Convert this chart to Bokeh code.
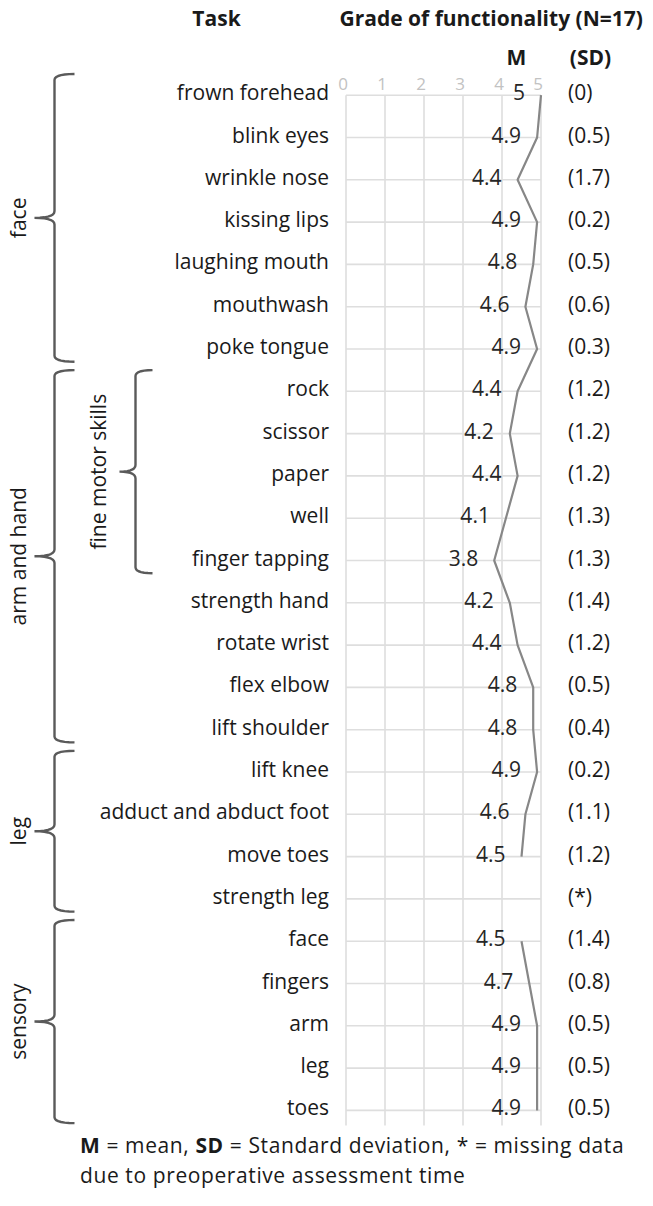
import numpy as np
from bokeh.plotting import figure
from bokeh.models import Range1d, Div
from bokeh.layouts import column
from bokeh.core.properties import value
from bokeh.embed import file_html
from bokeh.resources import INLINE

# ---------------- data ----------------
tasks = ["frown forehead", "blink eyes", "wrinkle nose", "kissing lips", "laughing mouth",
         "mouthwash", "poke tongue", "rock", "scissor", "paper", "well", "finger tapping",
         "strength hand", "rotate wrist", "flex elbow", "lift shoulder", "lift knee",
         "adduct and abduct foot", "move toes", "strength leg", "face", "fingers", "arm",
         "leg", "toes"]
means = [5, 4.9, 4.4, 4.9, 4.8, 4.6, 4.9, 4.4, 4.2, 4.4, 4.1, 3.8, 4.2, 4.4, 4.8, 4.8,
         4.9, 4.6, 4.5, None, 4.5, 4.7, 4.9, 4.9, 4.9]
sds = [0, 0.5, 1.7, 0.2, 0.5, 0.6, 0.3, 1.2, 1.2, 1.2, 1.3, 1.3, 1.4, 1.2, 0.5, 0.4,
       0.2, 1.1, 1.2, None, 1.4, 0.8, 0.5, 0.5, 0.5]
ticks = [0, 1, 2, 3, 4, 5]
groups = ["face", "arm and hand", "leg", "sensory"]
group_start = [0, 7, 16, 20]
group_end = [6, 15, 19, 24]
subgroups = ["fine motor skills"]
subgroup_start = [7]
subgroup_end = [11]

# ---------------- geometry ----------------
W, H = 645, 1128
PX_UNIT = 39.0      # px per grade unit
X0 = 345.5          # canvas px of grade 0
ROW_PX = 42.3       # px per row
ROW0 = 94.7         # canvas px of first row

def dx(cx):
    return (cx - X0) / PX_UNIT

def dy(cy):
    return (cy - ROW0) / ROW_PX

FONT = value("Open Sans")
TXT = "#1a1a1a"
FS = "21px"

p = figure(width=W, height=H, output_backend="svg", toolbar_location=None,
           x_range=Range1d(dx(0), dx(W)), y_range=Range1d(dy(H), dy(0)),
           x_axis_type=None, y_axis_type=None, min_border=0,
           outline_line_color=None, background_fill_color="white",
           border_fill_color="white")
p.grid.visible = False

rows = np.arange(len(tasks))
m = np.array([np.nan if v is None else v for v in means], dtype=float)

# grid
grid_bottom = dy(H - 3)
p.segment(x0=ticks, y0=[0] * len(ticks), x1=ticks, y1=[grid_bottom] * len(ticks),
          line_color="#dedede", line_width=1.6)
p.segment(x0=[0] * len(rows), y0=rows, x1=[ticks[-1]] * len(rows), y1=rows,
          line_color="#dedede", line_width=1.6)

# tick labels
p.text(x=ticks, y=[dy(83)] * len(ticks), text=[str(t) for t in ticks], x_offset=-3,
       text_font=FONT, text_font_size="17px", text_color="#c2c2c2",
       text_align="center", text_baseline="middle")

# mean line
p.line(x=m, y=rows, line_color="#878787", line_width=2.2)

# task labels
p.text(x=[0] * len(rows), y=rows, text=tasks, x_offset=-17, y_offset=-3,
       text_font=FONT, text_font_size=FS, text_color=TXT,
       text_align="right", text_baseline="middle")

# mean values
mean_lbl = ["" if v is None else f"{v:g}" for v in means]
mx = [0 if v is None else v for v in means]
p.text(x=mx, y=rows, text=mean_lbl, x_offset=-16, y_offset=-3,
       text_font=FONT, text_font_size=FS, text_color="#262626",
       text_align="right", text_baseline="middle")

# SD values
sd_lbl = ["(*)" if s is None else f"({s:g})" for s in sds]
p.text(x=[ticks[-1]] * len(rows), y=rows, text=sd_lbl, x_offset=27, y_offset=-3,
       text_font=FONT, text_font_size=FS, text_color=TXT,
       text_align="left", text_baseline="middle")

# headers
p.text(x=[dx(216)], y=[dy(17)], text=["Task"], text_font=FONT, text_font_size=FS,
       text_font_style="bold", text_color=TXT, text_align="center", text_baseline="middle")
p.text(x=[dx(339)], y=[dy(17)], text=["Grade of functionality (N=17)"], text_font=FONT,
       text_font_size=FS, text_font_style="bold", text_color=TXT,
       text_align="left", text_baseline="middle")
p.text(x=[dx(516), dx(590)], y=[dy(56), dy(56)], text=["M", "(SD)"], text_font=FONT,
       text_font_size=FS, text_font_style="bold", text_color=TXT,
       text_align="center", text_baseline="middle")

# braces
def bqz(p0, p1, p2, n=8):
    t = np.linspace(0, 1, n)
    x = (1 - t) ** 2 * p0[0] + 2 * (1 - t) * t * p1[0] + t ** 2 * p2[0]
    y = (1 - t) ** 2 * p0[1] + 2 * (1 - t) * t * p1[1] + t ** 2 * p2[1]
    return list(x), list(y)

def brace(x_line, x_hook, x_cusp, top, bot, r=0.14, rc=0.16):
    mid = (top + bot) / 2
    xs, ys = [], []
    for seg in [bqz((x_hook, top), (x_line, top), (x_line, top + r)),
                bqz((x_line, mid - rc), (x_line, mid), (x_cusp, mid)),
                bqz((x_cusp, mid), (x_line, mid), (x_line, mid + rc)),
                bqz((x_line, bot - r), (x_line, bot), (x_hook, bot))]:
        xs += seg[0]
        ys += seg[1]
    return xs, ys, mid

for name, s, e in zip(groups, group_start, group_end):
    xs, ys, mid = brace(dx(54), dx(74), dx(34), s - 0.5, e + 0.3)
    p.line(x=xs, y=ys, line_color="#5a5a5a", line_width=2.4)
    p.text(x=[dx(17)], y=[mid], text=[name], angle=np.pi / 2, text_font=FONT,
           text_font_size=FS, text_color=TXT, text_align="center",
           text_baseline="middle")

for name, s, e in zip(subgroups, subgroup_start, subgroup_end):
    xs, ys, mid = brace(dx(135), dx(152), dx(119), s - 0.5, e + 0.3)
    p.line(x=xs, y=ys, line_color="#5a5a5a", line_width=2.4)
    p.text(x=[dx(97)], y=[mid], text=[name], angle=np.pi / 2, text_font=FONT,
           text_font_size=FS, text_color=TXT, text_align="center",
           text_baseline="middle")

note = Div(text="<b>M</b> = mean, <b>SD</b> = Standard deviation, * = missing data<br>"
                "due to preoperative assessment time",
           width=565, height=60, margin=(2, 0, 0, 80),
           styles={"font-family": "Open Sans", "font-size": "21px", "line-height": "30px",
                   "letter-spacing": "0.6px", "color": TXT, "white-space": "nowrap"})

layout = column(p, note, spacing=0)
open("out.html", "w").write(file_html(layout, INLINE))
